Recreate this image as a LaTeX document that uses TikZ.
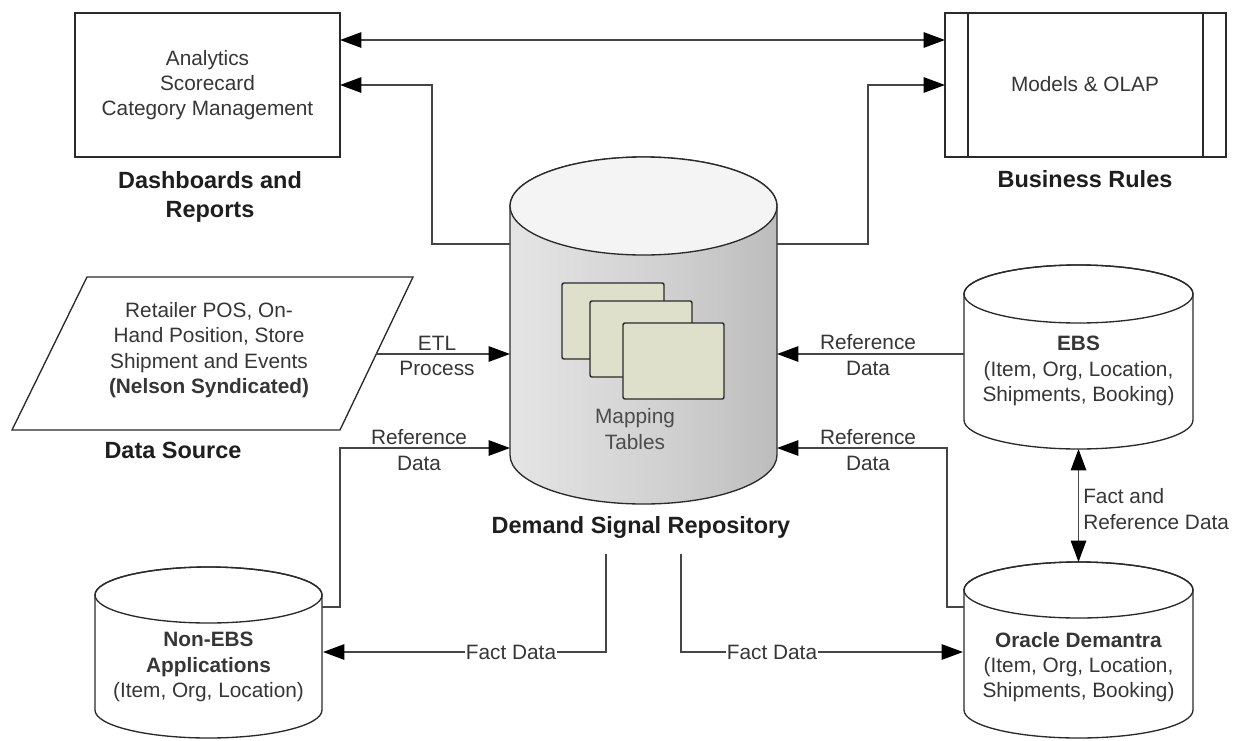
\documentclass[tikz,border=0pt]{standalone}
\usepackage{fontspec}
\setmainfont{Liberation Sans}
\usetikzlibrary{arrows.meta,fit}
\definecolor{txt}{HTML}{363636}
\definecolor{btxt}{HTML}{1E1E1E}
\definecolor{edge}{HTML}{2A2A2A}
\definecolor{conn}{HTML}{454545}
\definecolor{tab}{HTML}{DEE0CB}
\definecolor{topc}{HTML}{F4F4F4}
\definecolor{cA}{HTML}{E2E2E2}
\definecolor{cB}{HTML}{EFEFEF}
\definecolor{cC}{HTML}{D0D0D0}
\definecolor{cD}{HTML}{B0B0B0}
\definecolor{cE}{HTML}{8A8A8A}
\pgfdeclarehorizontalshading{cylbody}{100bp}{color(0bp)=(cA); color(10bp)=(cB); color(55bp)=(cC); color(88bp)=(cD); color(100bp)=(cE)}
\begin{document}
\begin{tikzpicture}[x=0.75pt,y=-0.75pt,
  shapeline/.style={draw=edge, line width=1pt},
  connline/.style={draw=conn, line width=1.3pt},
  arr/.style={connline, -{Triangle[length=16pt,width=11.5pt,color=black]}},
  darr/.style={connline, {Triangle[length=16pt,width=11.5pt,color=black]}-{Triangle[length=16pt,width=11.5pt,color=black]}},
  txtn/.style={font=\fontsize{15.6}{19}\selectfont, text=txt, align=center, inner sep=0pt},
  lbl/.style={font=\bfseries\fontsize{17.6}{21.8}\selectfont, text=btxt, align=center, inner sep=0pt},
  ghost/.style={inner sep=0pt, draw=none},
  tbl/.style={draw=edge, line width=1.1pt, fill=tab, rounded corners=1.5pt}]
\useasboundingbox[fill=white] (0,0) rectangle (1239,740);

% ---------- top boxes ----------
\node[shapeline, fit={(75,13)(340,157)}, inner sep=0pt] (dash) {};
\node[txtn] (dashtxt) at (dash.center) {Analytics\\Scorecard\\Category Management};
\node[lbl] (dashlbl) at (210,197) {Dashboards and\\Reports};

\node[shapeline, fit={(945,13)(1226,157)}, inner sep=0pt] (rules) {};
\draw[shapeline] (968,13) -- (968,157) (1203,13) -- (1203,157);
\node[txtn] (rulestxt) at (1085,84) {Models \& OLAP};
\node[lbl] (ruleslbl) at (1085,179) {Business Rules};

% ---------- central cylinder ----------
\node[ghost, fit={(510,157)(777,504)}] (dsr) {};
\shade[shading=cylbody, draw=edge, line width=1pt] (510,206) -- (510,455)
  arc[start angle=180, end angle=0, x radius=133.5, y radius=49] -- (777,206)
  arc[start angle=0, end angle=-180, x radius=133.5, y radius=49] -- cycle;
\draw[shapeline, fill=topc] (643.5,206) ellipse[x radius=133.5, y radius=49];
\draw[tbl] (562,283) rectangle (664,359);
\draw[tbl] (590,301) rectangle (692,377);
\draw[tbl] (623,323) rectangle (724,399);
\node[txtn, text=black!70] (maptxt) at (635,429) {Mapping\\Tables};
\node[lbl] (dsrlbl) at (641,527) {Demand Signal Repository};

% ---------- data source parallelogram ----------
\draw[shapeline] (87,277) -- (413,277) -- (340,430) -- (12,430) -- cycle;
\node[txtn] (srctxt) at (209,350) {Retailer POS, On-\\Hand Position, Store\\Shipment and Events\\\textbf{(Nelson Syndicated)}};
\node[lbl] (srclbl) at (173,450) {Data Source};

% ---------- small cylinders ----------
% Non-EBS
\draw[shapeline, fill=white] (95,595) -- (95,710)
  arc[start angle=180, end angle=0, x radius=113.5, y radius=28] -- (322,595)
  arc[start angle=0, end angle=-180, x radius=113.5, y radius=28] -- cycle;
\draw[shapeline] (208.5,595) ellipse[x radius=113.5, y radius=28];
\node[txtn] (nonebs) at (208.5,667) {\textbf{Non-EBS}\\\textbf{Applications}\\(Item, Org, Location)};
% EBS
\draw[shapeline, fill=white] (964,294) -- (964,420)
  arc[start angle=180, end angle=0, x radius=114.5, y radius=29] -- (1193,294)
  arc[start angle=0, end angle=-180, x radius=114.5, y radius=29] -- cycle;
\draw[shapeline] (1078.5,294) ellipse[x radius=114.5, y radius=29];
\node[txtn] (ebs) at (1078.5,371) {\textbf{EBS}\\(Item, Org, Location,\\Shipments, Booking)};
% Oracle Demantra
\draw[shapeline, fill=white] (964,590) -- (964,710)
  arc[start angle=180, end angle=0, x radius=114.5, y radius=28] -- (1193,590)
  arc[start angle=0, end angle=-180, x radius=114.5, y radius=28] -- cycle;
\draw[shapeline] (1078.5,590) ellipse[x radius=114.5, y radius=28];
\node[txtn] (oracle) at (1078.5,667) {\textbf{Oracle Demantra}\\(Item, Org, Location,\\Shipments, Booking)};

% ---------- connection points ----------
\coordinate (dsrLtop) at (510,244);
\coordinate (dsrRtop) at (777,244);
\coordinate (dsrLmid) at (510,354);
\coordinate (dsrRmid) at (777,354);
\coordinate (dsrLlow) at (510,448);
\coordinate (dsrRlow) at (777,448);
\coordinate (dsrB1) at (606,554);
\coordinate (dsrB2) at (681,554);
\coordinate (dashR1) at (340,40);
\coordinate (dashR2) at (340,85);
\coordinate (rulesL1) at (945,40);
\coordinate (rulesL2) at (945,85);
\coordinate (srcR) at (376,354);
\coordinate (nonebsR1) at (322,607);
\coordinate (nonebsR2) at (323,652);
\coordinate (ebsL) at (964,354);
\coordinate (ebsB) at (1078.5,449);
\coordinate (oracleT) at (1078.5,562);
\coordinate (oracleL1) at (964,607);
\coordinate (oracleL2) at (963,652);

% ---------- connectors ----------
\draw[darr] (dashR1) -- (rulesL1);
\draw[arr] (dsrLtop) -- (432,244) -- (432,85) -- (dashR2);
\draw[arr] (dsrRtop) -- (868,244) -- (868,85) -- (rulesL2);
\draw[arr] (srcR) -- (dsrLmid);
\draw[arr] (ebsL) -- (dsrRmid);
\draw[arr] (nonebsR1) -- (340,607) -- (340,448) -- (dsrLlow);
\draw[arr] (oracleL1) -- (947,607) -- (947,448) -- (dsrRlow);
\draw[darr] (ebsB) -- (oracleT);
\draw[arr] (dsrB1) -- (606,652) -- (nonebsR2);
\draw[arr] (dsrB2) -- (681,652) -- (oracleL2);

% ---------- connector labels ----------
\node[txtn] (etl) at (437,356) {ETL\\Process};
\node[txtn] (refL) at (419,450) {Reference\\Data};
\node[txtn] (refR) at (868,450) {Reference\\Data};
\node[txtn] (refE) at (868,355) {Reference\\Data};
\node[txtn, fill=white, inner sep=1pt] (factL) at (511,652) {Fact Data};
\node[txtn, fill=white, inner sep=1pt] (factR) at (772,652) {Fact Data};
\node[txtn, anchor=west, align=left] (factref) at (1083,509) {Fact and\\Reference Data};
\end{tikzpicture}
\end{document}
